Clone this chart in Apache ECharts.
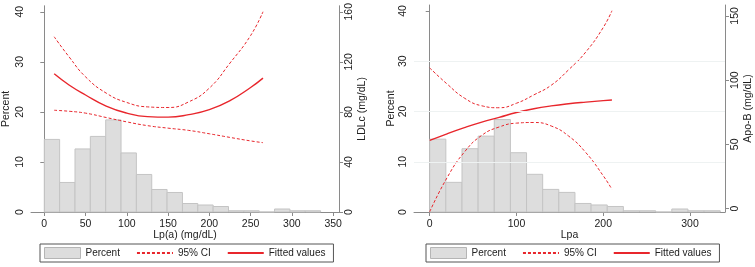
<!DOCTYPE html>
<html>
<head>
<meta charset="utf-8">
<script src="https://cdn.jsdelivr.net/npm/echarts@6/dist/echarts.min.js"></script>
<style>
  html, body { margin: 0; padding: 0; background: #fff; }
  #main { width: 755px; height: 267px; }
</style>
</head>
<body>
<div id="main"></div>
<script>
// histogram of Lp(a), same in both panels
var binWidth = 18.6;
var binLeft = [0, 18.6, 37.2, 55.8, 74.4, 93, 111.6, 130.2, 148.8, 167.4, 186, 204.6, 223.2, 241.8, 260.4, 279, 297.6, 316.2];
var binPercent = [14.5, 5.9, 12.6, 15.1, 18.4, 11.8, 7.5, 4.5, 3.9, 1.7, 1.4, 1.1, 0.25, 0.25, 0, 0.6, 0.25, 0.25];

// left panel: LDLc fit
var ldlX = [12, 30, 50, 75, 100, 125, 150, 175, 200, 225, 250, 265];
var ldlFit = [110.4, 101.5, 93.5, 84.6, 79, 76.2, 75.8, 77.8, 81.8, 89, 99.5, 107];
var ldlUpper = [140, 124, 108, 95, 87.5, 84, 83.5, 88, 99, 119, 141, 160];
var ldlLower = [81.3, 80.5, 79, 75.5, 72, 69, 67, 65.2, 62.5, 59.6, 56.8, 55.4];

// right panel: Apo-B fit
var apoX = [0, 20, 40, 60, 80, 100, 120, 140, 160, 180, 200, 210];
var apoFit = [53, 58.2, 63, 67.3, 71, 74.8, 77.7, 79.9, 81.6, 82.9, 84, 84.5];
var apoUpper = [109.5, 97, 86, 80, 78.5, 82, 88.5, 96, 108, 122, 141, 154];
var apoLower = [-2.5, 24, 44, 57, 63.5, 66.5, 67, 64.3, 56.5, 43.5, 25.5, 15];

var pctTicks = [0, 10, 20, 30, 40];
var ldlTicks = [0, 40, 80, 120, 160];
var apoTicks = [0, 50, 100, 150];
var lpTicksLeft = [0, 50, 100, 150, 200, 250, 300, 350];
var lpTicksRight = [0, 100, 200, 300];
var gridPct = [10, 20, 30];

var RED = '#e8262c';
var AXIS = '#8a8a8a';
var FONT = 'Liberation Sans';

function zip(xs, ys) {
  return xs.map(function (x, i) { return [x, ys[i]]; });
}

var histData = binLeft.map(function (x, i) { return [x, x + binWidth, binPercent[i]]; });

function renderHist(params, api) {
  var p0 = api.coord([api.value(0), api.value(2)]);
  var p1 = api.coord([api.value(1), 0]);
  return {
    type: 'rect',
    shape: { x: p0[0], y: p0[1], width: p1[0] - p0[0], height: p1[1] - p0[1] },
    style: { fill: '#dddddd', stroke: '#c4c4c4', lineWidth: 1 }
  };
}

function xAxisOf(idx, min, max, ticks, name) {
  return {
    type: 'value', gridIndex: idx, min: min, max: max,
    name: name, nameLocation: 'middle', nameGap: 18, nameMoveOverlap: false,
    nameTextStyle: { fontFamily: FONT, fontSize: 10.5, color: '#222' },
    axisLine: { lineStyle: { color: AXIS } },
    axisTick: { customValues: ticks, length: 4, lineStyle: { color: AXIS } },
    axisLabel: { customValues: ticks, margin: 7, fontFamily: FONT, fontSize: 10.5, color: '#222' },
    splitLine: { show: false }
  };
}

function yAxisOf(idx, pos, min, max, ticks, name, gap) {
  return {
    type: 'value', gridIndex: idx, position: pos, min: min, max: max,
    name: name, nameLocation: 'middle', nameGap: gap, nameRotate: 90, nameMoveOverlap: false,
    nameTextStyle: { fontFamily: FONT, fontSize: 10.5, color: '#222' },
    axisLine: { show: true, lineStyle: { color: AXIS } },
    axisTick: { show: true, customValues: ticks, length: 4, lineStyle: { color: AXIS } },
    axisLabel: { customValues: ticks, rotate: 90, margin: 5, fontFamily: FONT, fontSize: 10.5, color: '#222' },
    splitLine: { show: false }
  };
}

function lineSeries(name, xi, yi, data, dashed) {
  return {
    name: name, type: 'line', xAxisIndex: xi, yAxisIndex: yi,
    data: data, smooth: 0.5, symbol: 'none', silent: true,
    lineStyle: dashed ? { color: RED, width: 1, type: [3, 2] } : { color: RED, width: 1.4 },
    itemStyle: { color: RED },
    z: 3
  };
}

var noMarker = { color: 'rgba(0,0,0,0)', borderWidth: 0, opacity: 0 };

function legendOf(left) {
  return {
    left: left, top: 244, orient: 'horizontal',
    padding: [3, 8, 3, 4], itemGap: 16, itemWidth: 36, itemHeight: 11,
    borderColor: '#555', borderWidth: 1,
    textStyle: { fontFamily: FONT, fontSize: 10, color: '#222' },
    data: [
      { name: 'Percent', icon: 'rect', itemStyle: { color: '#dddddd', borderColor: '#b5b5b5', borderWidth: 1 } },
      { name: '95% CI', itemStyle: noMarker },
      { name: 'Fitted values', itemStyle: noMarker }
    ],
    selectedMode: false
  };
}

var myChart = echarts.init(document.getElementById('main'));
var option = {
  backgroundColor: '#ffffff',
  animation: false,
  grid: [
    { left: 30, right: 416, top: 5, bottom: 55 },
    { left: 414, right: 30, top: 5, bottom: 55 }
  ],
  legend: [legendOf(40), legendOf(426)],
  xAxis: [
    xAxisOf(0, -16.1, 357.1, lpTicksLeft, 'Lp(a) (mg/dL)'),
    xAxisOf(1, -18.1, 340.3, lpTicksRight, 'Lpa')
  ],
  yAxis: [
    yAxisOf(0, 'left', 0, 41.2, pctTicks, 'Percent', 19),
    yAxisOf(0, 'right', 0, 164.8, ldlTicks, 'LDLc (mg/dL)', 18),
    yAxisOf(1, 'left', 0, 41.2, pctTicks, 'Percent', 17),
    yAxisOf(1, 'right', -2.7, 158.5, apoTicks, 'Apo-B (mg/dL)', 18)
  ],
  series: [
    {
      name: 'Percent', type: 'custom', xAxisIndex: 0, yAxisIndex: 0,
      renderItem: renderHist, data: histData, encode: { x: [0, 1], y: 2 },
      itemStyle: { color: '#dddddd' }, silent: true, z: 1
    },
    lineSeries('95% CI', 0, 1, zip(ldlX, ldlUpper), true),
    lineSeries('95% CI', 0, 1, zip(ldlX, ldlLower), true),
    lineSeries('Fitted values', 0, 1, zip(ldlX, ldlFit), false),
    {
      name: 'Percent', type: 'custom', xAxisIndex: 1, yAxisIndex: 2,
      renderItem: renderHist, data: histData, encode: { x: [0, 1], y: 2 },
      itemStyle: { color: '#dddddd' }, silent: true, z: 1,
      markLine: {
        silent: true, symbol: 'none', label: { show: false },
        lineStyle: { color: '#eef2f2', width: 1, type: 'solid' },
        data: gridPct.map(function (v) { return { yAxis: v }; })
      }
    },
    lineSeries('95% CI', 1, 3, zip(apoX, apoUpper), true),
    lineSeries('95% CI', 1, 3, zip(apoX, apoLower), true),
    lineSeries('Fitted values', 1, 3, zip(apoX, apoFit), false)
  ]
};
myChart.setOption(option);
</script>
</body>
</html>
